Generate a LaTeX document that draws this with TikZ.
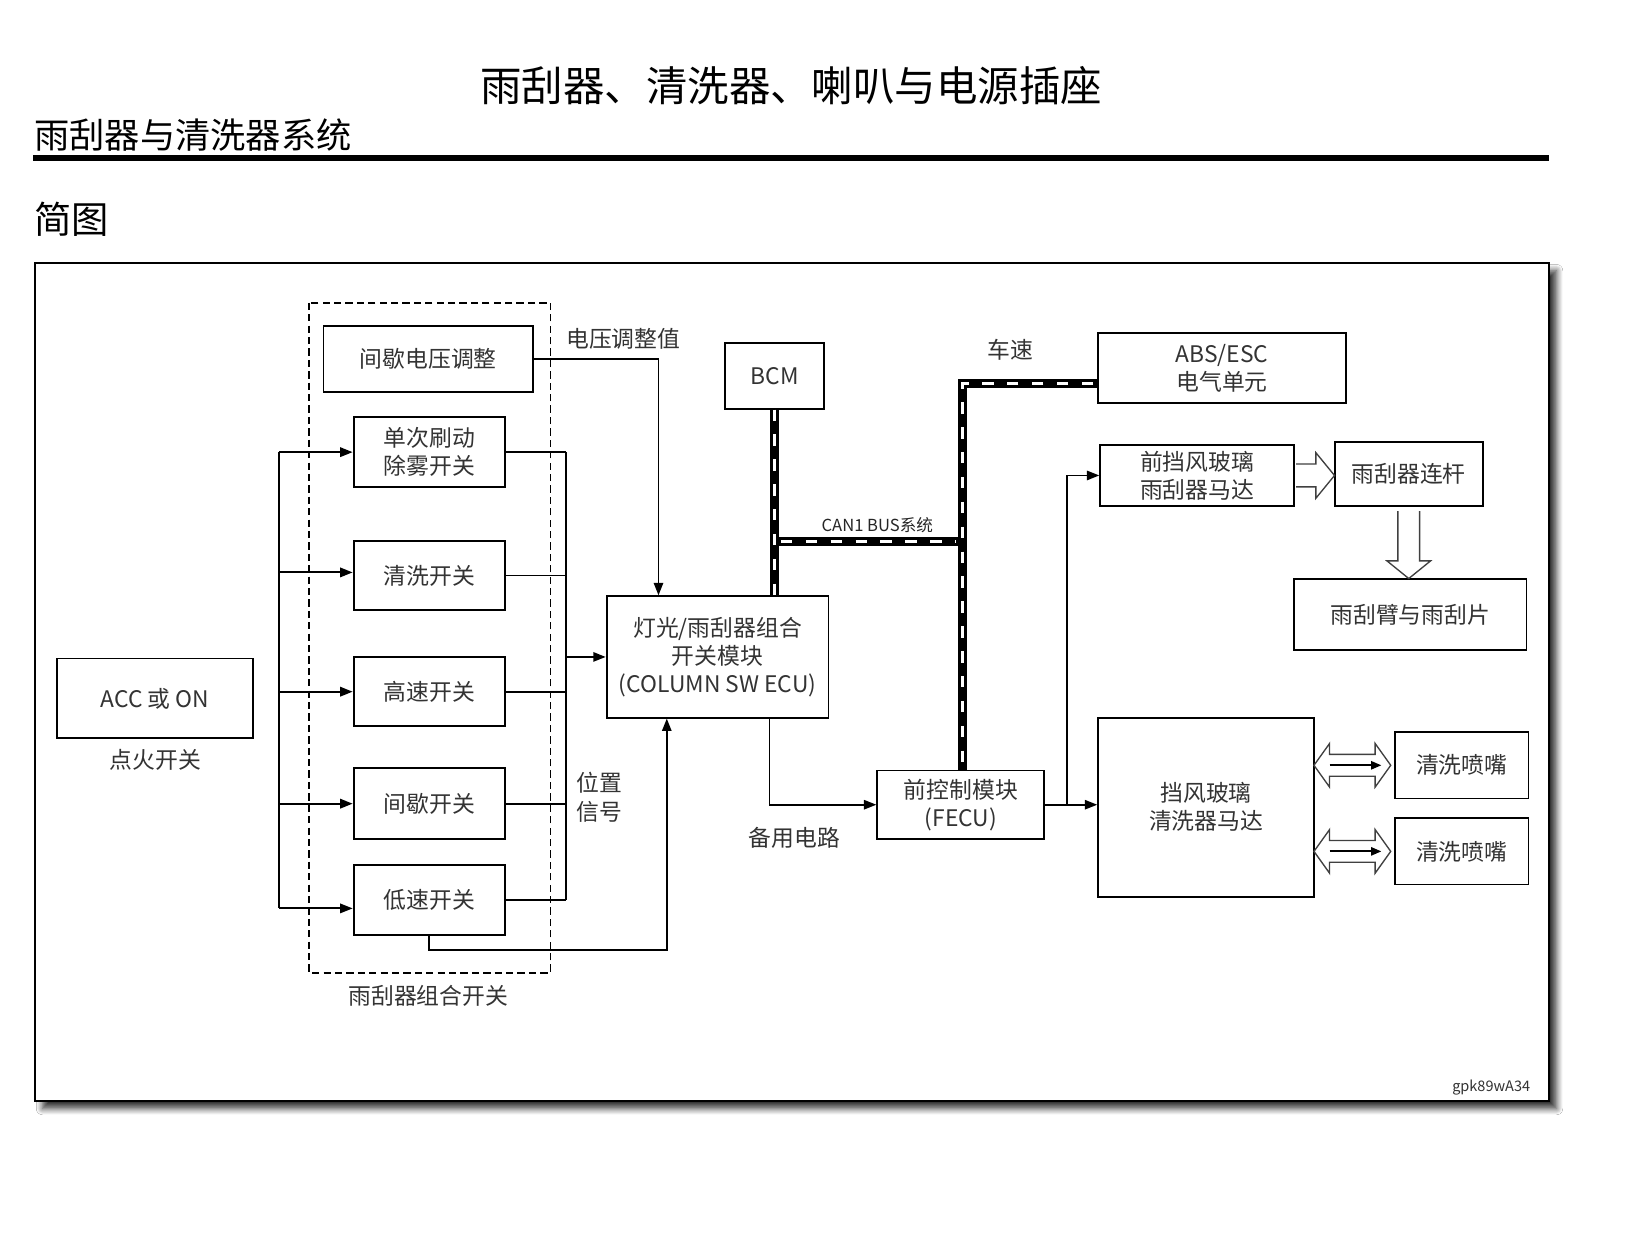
\documentclass[tikz,border=0pt]{standalone}
\usepackage{fontspec}
\setmainfont{Noto Sans CJK SC}
\usetikzlibrary{arrows.meta,shadows.blur,calc}
\begin{document}
\begin{tikzpicture}[x=1pt,y=-1pt,
  box/.style={draw=black, line width=1.8pt, fill=white, inner sep=0pt, align=center,
    font=\fontsize{22}{27}\selectfont, text=black!80},
  lbl/.style={inner sep=0pt, align=left, font=\fontsize{22}{28}\selectfont, text=black!80},
  wire/.style={line width=1.8pt},
  arr/.style={line width=1.8pt, -{Triangle[length=12pt,width=9pt]}},
  sarr/.style={line width=1.8pt, -{Triangle[length=10pt,width=8pt]}},
  canblack/.style={line width=9pt, black},
  canwhite/.style={line width=3pt, white, dash pattern=on 11pt off 13pt},
  hollow/.style={line width=1.3pt, draw=black!75, fill=white, line join=miter}
]
\useasboundingbox[fill=white] (0,0) rectangle (1568,1209);

% headings
\node[inner sep=0pt, font=\fontsize{40}{44}\selectfont] (title) at (763,83) {雨刮器、清洗器、喇叭与电源插座};
\node[inner sep=0pt, anchor=west, font=\fontsize{34}{38}\selectfont] (sub) at (33,130) {雨刮器与清洗器系统};
\draw[line width=6pt] (32,152) -- (1494,152);
\node[inner sep=0pt, anchor=west, font=\fontsize{36}{40}\selectfont] (jt) at (33,211) {简图};

% frame
\node[draw=black, line width=2pt, fill=white, minimum width=1460pt, minimum height=808pt, inner sep=0pt,
  blur shadow={shadow xshift=7pt, shadow yshift=-7pt, shadow blur radius=6pt, shadow blur steps=8, shadow opacity=80}] (frame) at (764,658) {};

% dashed group
\draw[line width=1.6pt, dash pattern=on 7pt off 4pt] (298,292) rectangle (531,938);
\node[lbl] (grp) at (413,960) {雨刮器组合开关};

% boxes
\node[box, minimum width=202pt, minimum height=64pt] (vadj) at (413,346) {间歇电压调整};
\node[box, minimum width=146pt, minimum height=67pt] (s1) at (414,436) {单次刷动\\除雾开关};
\node[box, minimum width=146pt, minimum height=67pt] (s2) at (414,555) {清洗开关};
\node[box, minimum width=146pt, minimum height=67pt] (s3) at (414,667) {高速开关};
\node[box, minimum width=146pt, minimum height=68pt] (s4) at (414,775) {间歇开关};
\node[box, minimum width=146pt, minimum height=68pt] (s5) at (414,868) {低速开关};
\node[box, minimum width=189pt, minimum height=77pt] (acc) at (149.5,673.5) {ACC 或 ON};
\node[lbl] (ign) at (150,733) {点火开关};
\node[box, minimum width=214pt, minimum height=117pt] (ecu) at (692,633.5) {灯光/雨刮器组合\\开关模块\\(COLUMN SW ECU)};
\node[box, minimum width=96pt, minimum height=63pt] (bcm) at (747,362.5) {BCM};
\node[box, minimum width=239pt, minimum height=68pt] (abs) at (1178.5,355) {ABS/ESC\\电气单元};
\node[box, minimum width=187pt, minimum height=59pt] (wmot) at (1154.5,458.5) {前挡风玻璃\\雨刮器马达};
\node[box, minimum width=143pt, minimum height=62pt] (link) at (1358.5,457) {雨刮器连杆};
\node[box, minimum width=224pt, minimum height=69pt] (arm) at (1360,592.5) {雨刮臂与雨刮片};
\node[box, minimum width=161pt, minimum height=66pt] (fecu) at (926.5,776) {前控制模块\\(FECU)};
\node[box, minimum width=208pt, minimum height=173pt] (wash) at (1163,778.5) {挡风玻璃\\清洗器马达};
\node[box, minimum width=129pt, minimum height=64pt] (n1) at (1409.5,738) {清洗喷嘴};
\node[box, minimum width=129pt, minimum height=64pt] (n2) at (1409.5,821) {清洗喷嘴};

% left supply bus
\coordinate (lb1) at (269,436);
\coordinate (lb5) at (269,876);
\draw[wire] (lb1) -- (lb5);
\draw[arr] (lb1) -- (s1.west);
\draw[arr] (lb1 |- 0,552) -- (s2.west |- 0,552);
\draw[arr] (lb1 |- s3.west) -- (s3.west);
\draw[arr] (lb1 |- s4.west) -- (s4.west);
\draw[arr] (lb5) -- (lb5 -| s5.west);

% right collection bus
\coordinate (rb) at (546,0);
\draw[wire] (s1.east) -- (s1.east -| rb);
\draw[wire] (s2.east) -- (s2.east -| rb);
\draw[wire] (s3.east) -- (s3.east -| rb);
\draw[wire] (s4.east) -- (s4.east -| rb);
\draw[wire] (s5.east) -- (s5.east -| rb);
\draw[wire] (s1.east -| rb) -- (s5.east -| rb);
\draw[arr] (ecu.west -| rb) -- (ecu.west);
\node[lbl] (pos) at (578,769) {位置\\信号};

% voltage adjust
\draw[arr] (vadj.east) -| ([xshift=-57pt]ecu.north);
\node[lbl] (vlbl) at (601,327) {电压调整值};

% low speed feedback
\draw[arr] (s5.south) -- ++(0,13) -| ([xshift=-49pt]ecu.south);

% backup circuit
\draw[arr] ([xshift=50pt]ecu.south) |- (fecu.west);
\node[lbl] (bk) at (766,808) {备用电路};

% FECU outputs
\coordinate (br) at (1029,776);
\draw[arr] (fecu.east) -- (fecu.east -| wash.west);
\draw[arr] (br) |- (wmot.west);

% CAN bus
\coordinate (cj) at (747,522);
\coordinate (cj2) at (928,522);
\coordinate (ct) at (928,370);
\draw[canblack] (bcm.south) -- (bcm.south |- ecu.north);
\draw[canblack] (cj) -- (cj2);
\draw[canblack] (abs.west |- ct) -- (ct) -- (ct |- fecu.north);
\draw[canwhite] (bcm.south) -- (bcm.south |- ecu.north);
\draw[canwhite] ([xshift=6pt]cj) -- ([xshift=-6pt]cj2);
\draw[canwhite] ([xshift=-4pt]abs.west |- ct) -- (ct) -- (ct |- fecu.north);
\node[inner sep=0pt, font=\fontsize{16}{18}\selectfont, text=black!85] (canl) at (846,506) {CAN1 BUS系统};
\node[lbl] (spd) at (974,337) {车速};

% hollow arrows
\begin{scope}[shift={(wmot.east)}]
\draw[hollow] (1,-11) -- (20,-11) -- (20,-22) -- (38,0) -- (20,22) -- (20,11) -- (1,11);
\end{scope}
\begin{scope}[shift={(link.south)}]
\draw[hollow] (-10.5,4) -- (-10.5,52) -- (-21,52) -- (0,69) -- (21,52) -- (10.5,52) -- (10.5,4);
\end{scope}
\begin{scope}[shift={(n1.west)}]
\draw[hollow] (-77,0) -- (-62,-21) -- (-62,-10.5) -- (-18,-10.5) -- (-18,-21) -- (-3,0) -- (-18,21) -- (-18,10.5) -- (-62,10.5) -- (-62,21) -- cycle;
\draw[sarr] (-62,0) -- (-12,0);
\end{scope}
\begin{scope}[shift={(n2.west)}]
\draw[hollow] (-77,0) -- (-62,-21) -- (-62,-10.5) -- (-18,-10.5) -- (-18,-21) -- (-3,0) -- (-18,21) -- (-18,10.5) -- (-62,10.5) -- (-62,21) -- cycle;
\draw[sarr] (-62,0) -- (-12,0);
\end{scope}

\node[inner sep=0pt, font=\fontsize{14}{16}\selectfont, text=black!80] (code) at (1438,1049) {gpk89wA34};
\end{tikzpicture}
\end{document}
